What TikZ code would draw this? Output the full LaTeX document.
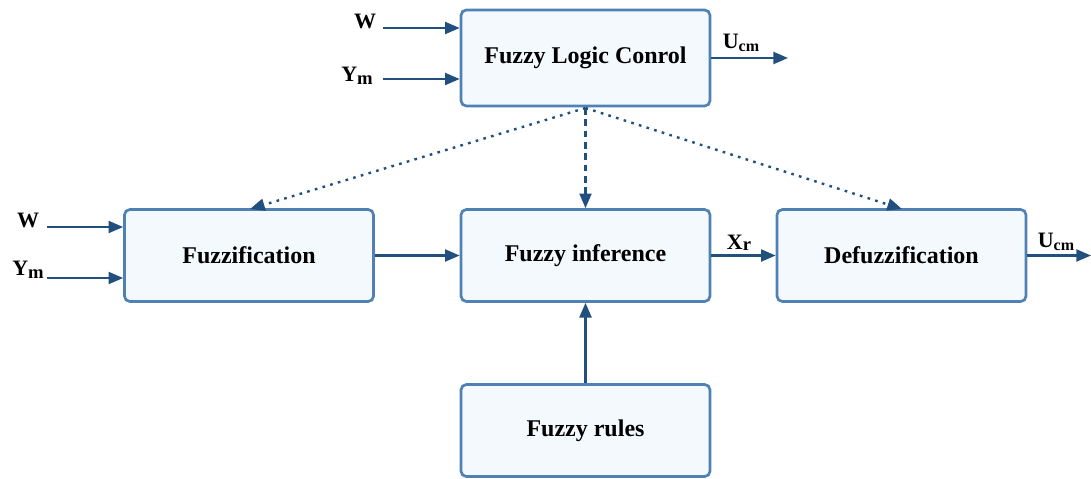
\documentclass[tikz,border=0pt]{standalone}
\usepackage{fontspec}
\setmainfont{Liberation Serif}
\usetikzlibrary{arrows.meta}
\definecolor{boxline}{HTML}{4F81B5}
\definecolor{boxfill}{HTML}{F4F9FE}
\definecolor{arr}{HTML}{22507E}
\newcommand{\Ucm}{U\raisebox{-0.3ex}{\fontsize{12}{13}\selectfont cm}}
\newcommand{\Ym}{Y\raisebox{-0.25ex}{\fontsize{14}{15}\selectfont m}}
\newcommand{\Xr}{X\raisebox{-0.15ex}{\fontsize{14}{15}\selectfont r}}
\begin{document}
\begin{tikzpicture}[x=0.75pt,y=-0.75pt,
  blk/.style={draw=boxline,fill=boxfill,line width=2pt,rounded corners=4pt,
    minimum width=186.75pt,minimum height=69pt,inner sep=0pt,
    font=\fontsize{18}{20}\selectfont\bfseries},
  lbl/.style={font=\fontsize{16.5}{18}\selectfont\bfseries,inner sep=0pt},
  link/.style={draw=arr,line width=1.7pt,-{Triangle[length=11pt,width=9pt]}},
  dlink/.style={draw=arr,line width=1.8pt,dash pattern=on 2pt off 4pt,-{Triangle[length=11pt,width=9pt]}}]
\useasboundingbox (0,0) rectangle (1091,478);
\node[blk,minimum height=72pt] (flc) at (585.5,58) {Fuzzy Logic Conrol};
\node[blk] (fz) at (249,255.5) {Fuzzification};
\node[blk] (fi) at (585.5,255.5) {Fuzzy inference};
\node[blk] (df) at (901.5,255.5) {Defuzzification};
\node[blk] (fr) at (585.5,430.5) {Fuzzy rules};
% inputs top
\coordinate (w1) at (383,28);
\coordinate (y1) at (383,79);
\node[lbl] (w1l) at (365,21) {W};
\node[lbl] (y1l) at (357,76) {\Ym};
\draw[link] (w1) -- (w1 -| flc.west);
\draw[link] (y1) -- (y1 -| flc.west);
\coordinate (u1) at (788,58);
\node[lbl] (u1l) at (741,43) {\Ucm};
\draw[link] (flc.east |- u1) -- (u1);
% inputs left
\coordinate (w2) at (47,227);
\coordinate (y2) at (47,278);
\node[lbl] (w2l) at (28,220) {W};
\node[lbl] (y2l) at (28,270) {\Ym};
\draw[link] (w2) -- (w2 -| fz.west);
\draw[link] (y2) -- (y2 -| fz.west);
% chain
\draw[link] (fz) -- (fi);
\draw[link] (fi) -- (df);
\node[lbl] (xrl) at (739,243) {\Xr};
\coordinate (u2) at (1091,255.5);
\node[lbl] (u2l) at (1056,242) {\Ucm};
\draw[link] (df) -- (u2);
\draw[link] (fr) -- (fi);
% dotted
\coordinate (top) at (585.5,108);
\draw[dlink] (top) -- (250,209);
\draw[dlink,line width=1.7pt,dash pattern=on 5pt off 3.5pt] (top) -- (fi.north);
\draw[dlink] (top) -- (902,209);
\end{tikzpicture}
\end{document}
